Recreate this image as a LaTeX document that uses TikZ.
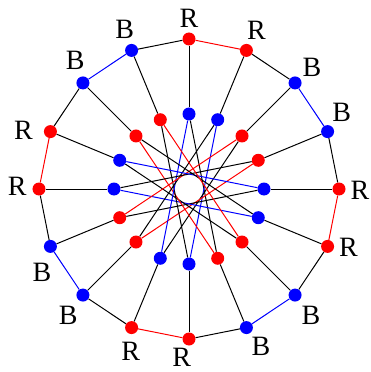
\documentclass[tikz,border=0pt]{standalone}
\usepackage{fontspec}
\setmainfont{Liberation Serif}
\usetikzlibrary{positioning, backgrounds}
\definecolor{vred}{HTML}{FF0000}
\definecolor{vblue}{HTML}{0000FF}
\tikzstyle{dot}=[circle,inner sep=0pt,minimum size=13pt]
\tikzstyle{edge}=[line width=1pt]
\tikzstyle{lab}=[font=\fontsize{28}{30}\selectfont,inner sep=0pt]

\begin{document}
\begin{tikzpicture}[x=1pt,y=1pt]
  \useasboundingbox (-189,-183) rectangle (181,189);
  % outer and inner rings
  \foreach \k/\c/\d in {0/vred/vblue,1/vred/vblue,2/vblue/vred,3/vblue/vred,
                        4/vred/vblue,5/vred/vblue,6/vblue/vred,7/vblue/vred,
                        8/vred/vblue,9/vred/vblue,10/vblue/vred,11/vblue/vred,
                        12/vred/vblue,13/vred/vblue,14/vblue/vred,15/vblue/vred} {
    \node[dot,fill=\c] (o\k) at (90-22.5*\k:150) {};
    \node[dot,fill=\d] (i\k) at (90-22.5*\k:75) {};
  }
  % letters
  \foreach \k/\t/\a/\r in {0/R/90/21,1/R/63/22,2/B/43/23,3/B/54/24,
                           4/R/-5/21,5/R/-3/21,6/B/-52/26,7/B/-53/24,
                           8/R/-111/20,9/R/-92/24,10/B/-126/25,11/B/-108/27,
                           12/R/172/22,13/R/178/27,14/B/109/24,15/B/108/22} {
    \node[lab] (t\k) at ([shift={(\a:\r)}]o\k.center) {\t};
  }
  \begin{scope}[on background layer]
    % outer cycle and spokes
    \foreach \k/\n/\c in {0/1/vred,1/2/black,2/3/vblue,3/4/black,
                          4/5/vred,5/6/black,6/7/vblue,7/8/black,
                          8/9/vred,9/10/black,10/11/vblue,11/12/black,
                          12/13/vred,13/14/black,14/15/vblue,15/0/black} {
      \draw[edge,\c] (o\k) -- (o\n);
      \draw[edge,black] (o\k) -- (i\k);
    }
    % inner star, k to k+7
    \foreach \k/\n/\c in {0/7/black,1/8/vblue,2/9/black,3/10/vred,
                          4/11/black,5/12/vblue,6/13/black,7/14/vred,
                          8/15/black,9/0/vblue,10/1/black,11/2/vred,
                          12/3/black,13/4/vblue,14/5/black,15/6/vred} {
      \draw[edge,\c] (i\k) -- (i\n);
    }
  \end{scope}
\end{tikzpicture}
\end{document}
